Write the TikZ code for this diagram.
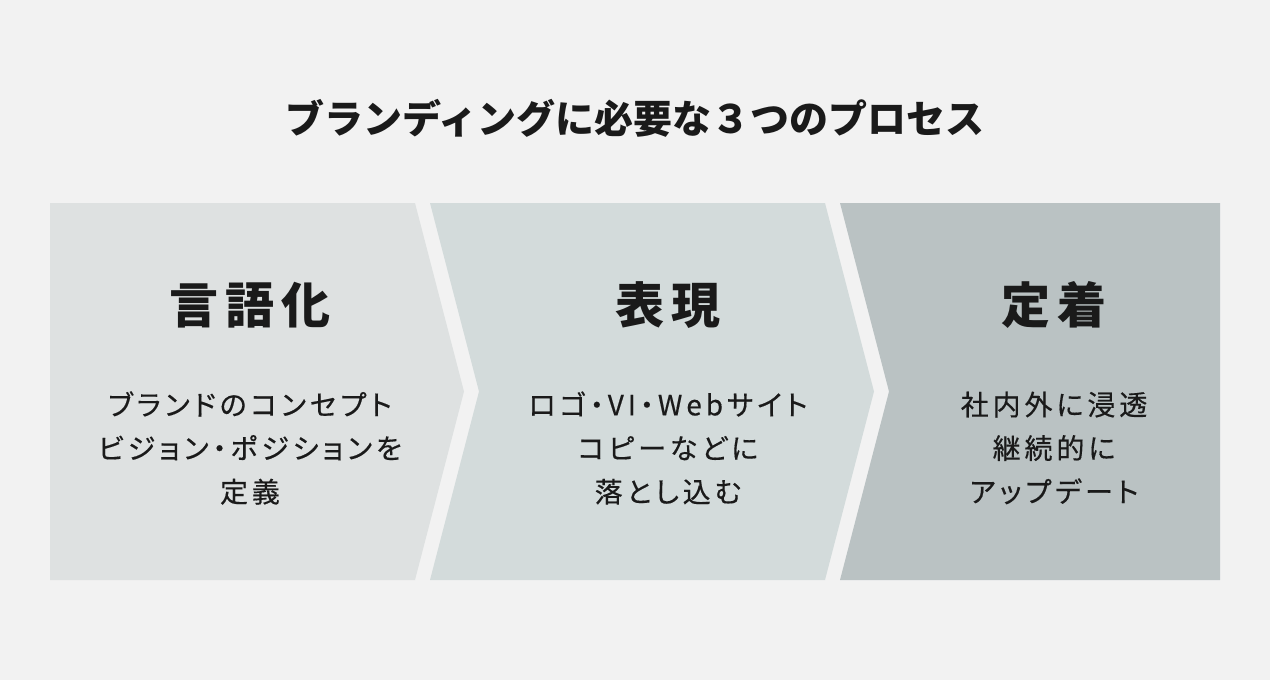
\documentclass[tikz,border=0pt]{standalone}
\usepackage{fontspec}
\setmainfont{Noto Sans CJK JP}[RawFeature=+palt]
\newfontfamily\titlefont{Noto Sans CJK JP}
\definecolor{bgGray}{RGB}{242,242,242}
\definecolor{panelA}{RGB}{222,225,225}
\definecolor{panelB}{RGB}{211,219,219}
\definecolor{panelC}{RGB}{186,194,195}
\definecolor{inkBlack}{RGB}{26,26,26}
\begin{document}
\begin{tikzpicture}
[x=1pt,y=-1pt,
  titleDecorate/.style={inner sep=0pt,text=inkBlack,
    font=\titlefont\fontsize{39}{39}\selectfont\bfseries},%
  headDecorate/.style={inner sep=0pt,text=inkBlack,
    font=\fontsize{49}{49}\selectfont\bfseries\addfontfeature{LetterSpace=14}},%
  textDecorate/.style={inner sep=0pt,text=inkBlack,align=center,
    font=\fontsize{28}{43.5}\selectfont\addfontfeature{LetterSpace=14,FakeBold=0.4}}]
%% background and chevrons
\fill[bgGray] (0,0) rectangle (1270,680);
\fill[panelA] (50,203) -- (415,203) -- (464,391.5) -- (415,580) -- (50,580) -- cycle;
\fill[panelB] (430,203) -- (825,203) -- (874,391.5) -- (825,580) -- (430,580)
  -- (479,391.5) -- cycle;
\fill[panelC] (840,203) -- (1220,203) -- (1220,580) -- (840,580) -- (889,391.5) -- cycle;
%% title
\node[titleDecorate] (title) at (635,118) {ブランディングに必要な３つのプロセス};
%% steps
\foreach \nodename/\x/\head/\body in {
  lang/250/言語化/{ブランドのコンセプト\\ビジョン・ポジションを\\定義},
  expr/668/表現/{ロゴ・VI・Webサイト\\コピーなどに\\落とし込む},
  root/1054/定着/{社内外に浸透\\継続的に\\アップデート}}
{
  \node[headDecorate] (\nodename Head) at (\x,305) {\head};
  \node[textDecorate] (\nodename Text) at (\x,448) {\body};
}
\end{tikzpicture}
\end{document}
